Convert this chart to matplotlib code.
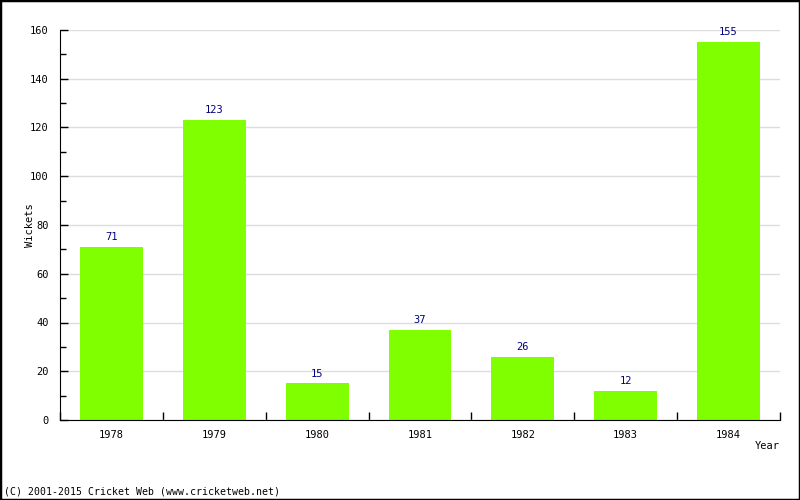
import numpy as np
import matplotlib.pyplot as plt
from matplotlib.patches import Rectangle
from matplotlib.ticker import MultipleLocator

years = ['1978', '1979', '1980', '1981', '1982', '1983', '1984']
wickets = [71, 123, 15, 37, 26, 12, 155]

plt.rcParams['font.family'] = 'DejaVu Sans Mono'
plt.rcParams['font.size'] = 7.5

fig = plt.figure(figsize=(8, 5), dpi=100)
ax = fig.add_axes([60/800, 80/500, 720/800, 390/500])

x = np.arange(len(years))
ax.bar(x, wickets, width=0.61, color='#80ff00', zorder=2)
for xi, v in zip(x, wickets):
    ax.text(xi, v + 2, str(v), ha='center', va='bottom', color='#000080')

ax.set_xlim(-0.5, len(years) - 0.5)
ax.set_ylim(0, 160)
ax.yaxis.set_major_locator(MultipleLocator(20))
ax.yaxis.set_minor_locator(MultipleLocator(10))
ax.grid(axis='y', color='#dddddd', linewidth=1, zorder=0)

ax.set_xticks(x)
ax.set_xticklabels(years)
ax.tick_params(axis='x', length=0, pad=7)
ax.set_xticks(np.arange(len(years) + 1) - 0.5, minor=True)
ax.tick_params(axis='x', which='minor', direction='in', length=6, width=1)
ax.tick_params(axis='y', which='major', direction='in', length=6, width=1, pad=8)
ax.tick_params(axis='y', which='minor', direction='in', length=4, width=1)

for s in ['top', 'right']:
    ax.spines[s].set_visible(False)

ax.set_ylabel('Wickets')
ax.yaxis.set_label_coords(-25/720, 0.5)
fig.text(780/800, 1 - 446/500, 'Year', ha='right', va='center')
fig.text(4/800, 1 - 492/500, '(C) 2001-2015 Cricket Web (www.cricketweb.net)',
         ha='left', va='center', fontsize=7.1)

fig.patches.append(Rectangle((0, 0), 1, 1, transform=fig.transFigure,
                             fill=False, edgecolor='black', linewidth=2.5))

fig.savefig('out.png', dpi=100)
